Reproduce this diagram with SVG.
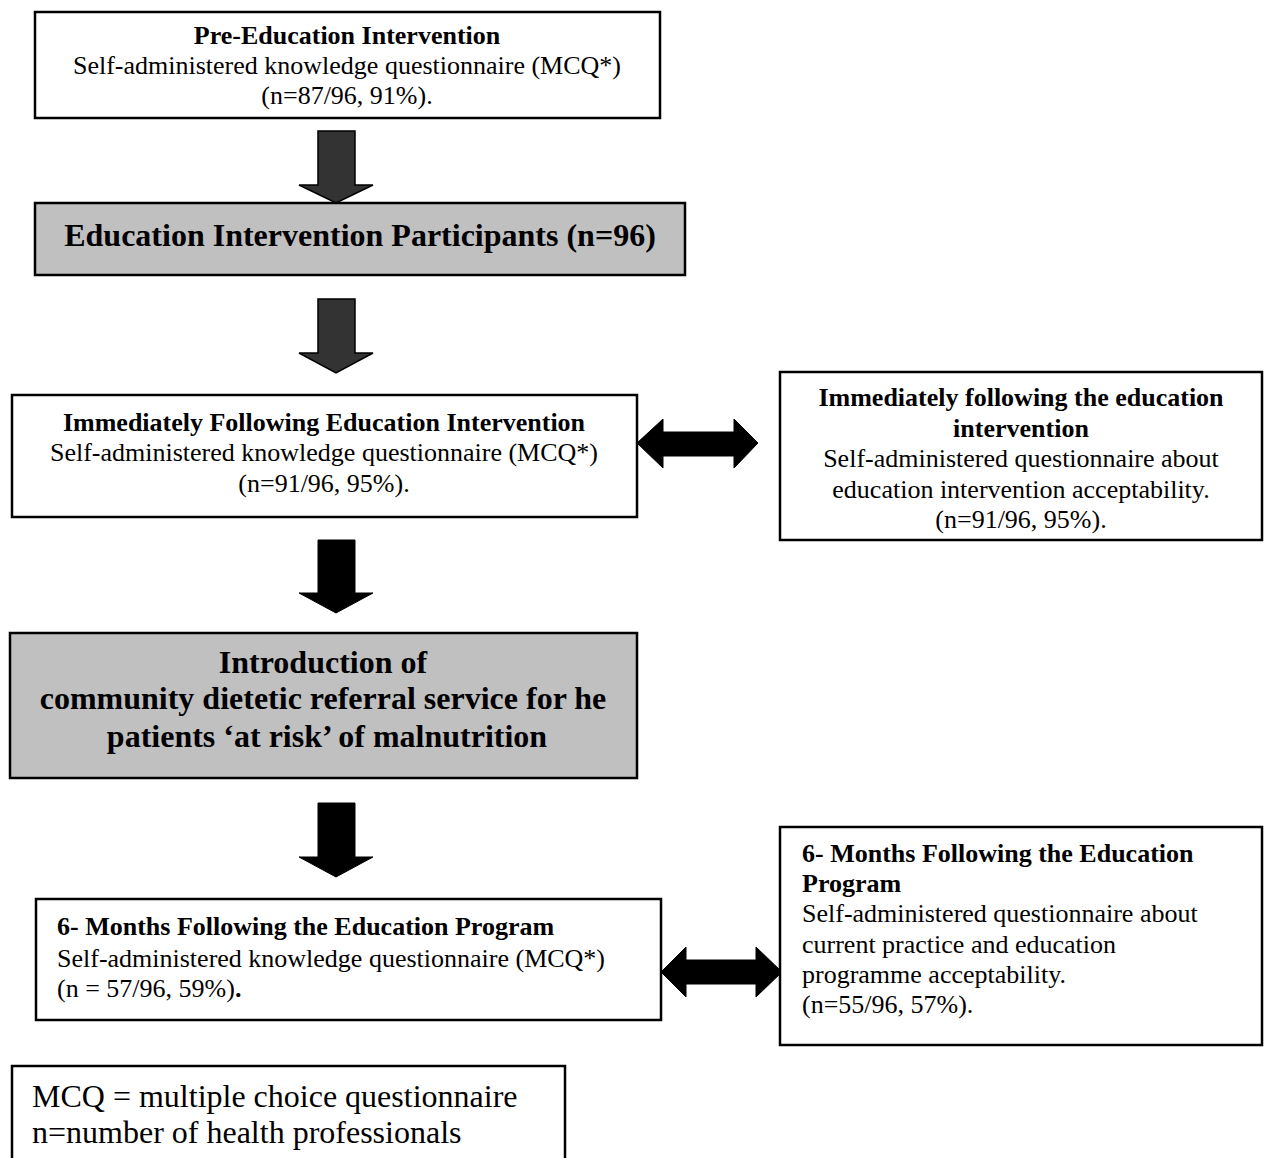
<svg xmlns="http://www.w3.org/2000/svg" width="1266" height="1158" viewBox="0 0 1266 1158">
<style>
.box{fill:#fff;stroke:#000;stroke-width:2.5}
.gbox{fill:#c0c0c0;stroke:#000;stroke-width:2.5}
text{font-family:"Liberation Serif","Times New Roman",serif;fill:#000}
.t{font-size:26px}
.b{font-size:26px;font-weight:bold}
.bb{font-size:32px;font-weight:bold}
.f{font-size:32px}
.c{text-anchor:middle}
.ad{fill:#333;stroke:#000;stroke-width:1.5}
.ab{fill:#000;stroke:#000;stroke-width:1}
</style>
<rect width="1266" height="1158" fill="#fff"/>
<g id="connectors">
<polygon class="ad" points="318,131 355,131 355,185 373,185 336,203 299,185 318,185"/>
<polygon class="ad" points="318,299 355,299 355,353 373,353 336,373 299,353 318,353"/>
<polygon class="ab" points="318,540 355,540 355,593 373,593 336,613 299,593 318,593"/>
<polygon class="ab" points="318,803 355,803 355,857 373,857 336,877 299,857 318,857"/>
<polygon class="ab" points="637,443 663,419 663,432 734,432 734,419 758,443 734,468 734,456 663,456 663,468"/>
<polygon class="ab" points="661,972 686,947 686,960 756,960 756,947 782,972 756,997 756,984 686,984 686,997"/>
</g>
<g id="pre">
<rect class="box" x="35" y="12" width="625" height="106"/>
<text class="b c" x="347" y="44">Pre-Education Intervention</text>
<text class="t c" x="347" y="74">Self-administered knowledge questionnaire (MCQ*)</text>
<text class="t c" x="347" y="104">(n=87/96, 91%).</text>
</g>
<g id="participants">
<rect class="gbox" x="35" y="203" width="650" height="72"/>
<text class="bb c" x="360" y="246">Education Intervention Participants (n=96)</text>
</g>
<g id="immediate">
<rect class="box" x="12" y="395" width="625" height="122"/>
<text class="b c" x="324" y="431">Immediately Following Education Intervention</text>
<text class="t c" x="324" y="461">Self-administered knowledge questionnaire (MCQ*)</text>
<text class="t c" x="324" y="492">(n=91/96, 95%).</text>
</g>
<g id="immediate-accept">
<rect class="box" x="780" y="372" width="482" height="168"/>
<text class="b c" x="1021" y="406">Immediately following the education</text>
<text class="b c" x="1021" y="437">intervention</text>
<text class="t c" x="1021" y="467">Self-administered questionnaire about</text>
<text class="t c" x="1021" y="498">education intervention acceptability.</text>
<text class="t c" x="1021" y="528">(n=91/96, 95%).</text>
</g>
<g id="introduction">
<rect class="gbox" x="10" y="633" width="627" height="145"/>
<text class="bb c" x="323" y="673">Introduction of</text>
<text class="bb c" x="323" y="709">community dietetic referral service for he</text>
<text class="bb c" x="327" y="747">patients ‘at risk’ of malnutrition</text>
</g>
<g id="six-months">
<rect class="box" x="36" y="899" width="625" height="121"/>
<text class="b" x="57" y="935">6- Months Following the Education Program</text>
<text class="t" x="57" y="967">Self-administered knowledge questionnaire (MCQ*)</text>
<text class="t" x="57" y="997">(n = 57/96, 59%)<tspan font-weight="bold">.</tspan></text>
</g>
<g id="six-months-accept">
<rect class="box" x="780" y="827" width="482" height="218"/>
<text class="b" x="802" y="862">6- Months Following the Education</text>
<text class="b" x="802" y="892">Program</text>
<text class="t" x="802" y="922">Self-administered questionnaire about</text>
<text class="t" x="802" y="953">current practice and education</text>
<text class="t" x="802" y="983">programme acceptability.</text>
<text class="t" x="802" y="1013">(n=55/96, 57%).</text>
</g>
<g id="legend">
<rect class="box" x="12" y="1066" width="553" height="110"/>
<text class="f" x="32" y="1107">MCQ = multiple choice questionnaire</text>
<text class="f" x="32" y="1143">n=number of health professionals</text>
</g>
</svg>
